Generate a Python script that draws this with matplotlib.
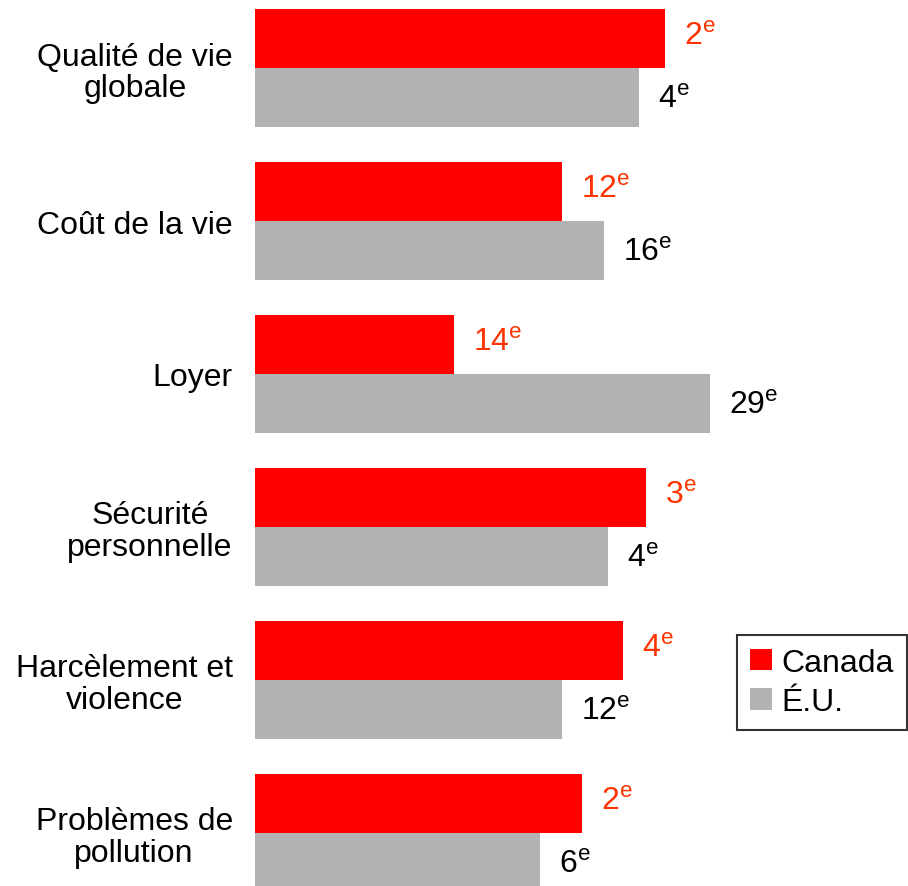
import numpy as np
import matplotlib
matplotlib.use('Agg')
import matplotlib.pyplot as plt

plt.rcParams['font.family'] = ['Liberation Sans', 'DejaVu Sans']
plt.rcParams['mathtext.fontset'] = 'custom'
plt.rcParams['mathtext.rm'] = 'Liberation Sans'

# données
categories = ['Qualité de vie\nglobale', 'Coût de la vie', 'Loyer',
              'Sécurité\npersonnelle', 'Harcèlement et\nviolence',
              'Problèmes de\npollution']
canada_scores = [410, 307, 199, 391, 368, 327]
eu_scores = [384, 349, 455, 353, 307, 285]
canada_ranks = ['2', '12', '14', '3', '4', '2']
eu_ranks = ['4', '16', '29', '4', '12', '6']

red = '#ff0000'
grey = '#b2b2b2'
label_red = '#ff3300'
fs = 23

fig = plt.figure(figsize=(9.08, 8.87), dpi=100)
ax = fig.add_axes([255 / 908, 0, 1 - 255 / 908, 1])

y = np.arange(len(categories))
h = 59 / 153
ax.barh(y - h / 2, canada_scores, height=h, color=red, label='Canada')
ax.barh(y + h / 2, eu_scores, height=h, color=grey, label='É.U.')

# étiquettes de rang
for i in range(len(categories)):
    ax.annotate(canada_ranks[i] + r'$^{\mathrm{e}}$', (canada_scores[i], y[i] - h / 2),
                xytext=(14, 2), textcoords='offset points', ha='left', va='center',
                fontsize=fs, color=label_red)
    ax.annotate(eu_ranks[i] + r'$^{\mathrm{e}}$', (eu_scores[i], y[i] + h / 2),
                xytext=(14, -1), textcoords='offset points', ha='left', va='center',
                fontsize=fs, color='black')

ax.set_xlim(0, 653)
ax.set_ylim((887 - 69) / 153, -69 / 153)
ax.set_yticks(y)
ax.set_yticklabels(categories, fontsize=fs, ha='right', multialignment='center',
                   linespacing=1.05)
ax.tick_params(axis='y', length=0, pad=16)
ax.set_xticks([])
for s in ax.spines.values():
    s.set_visible(False)

leg = fig.legend(loc='upper left', bbox_to_anchor=(737 / 908, 1 - 636 / 887),
                 fontsize=fs, frameon=True, fancybox=False, edgecolor='black',
                 handlelength=0.7, handleheight=0.65, handletextpad=0.3,
                 labelspacing=0.3, borderpad=0.4, borderaxespad=0)
leg.get_frame().set_linewidth(1.5)

fig.savefig('out.png', dpi=100)
